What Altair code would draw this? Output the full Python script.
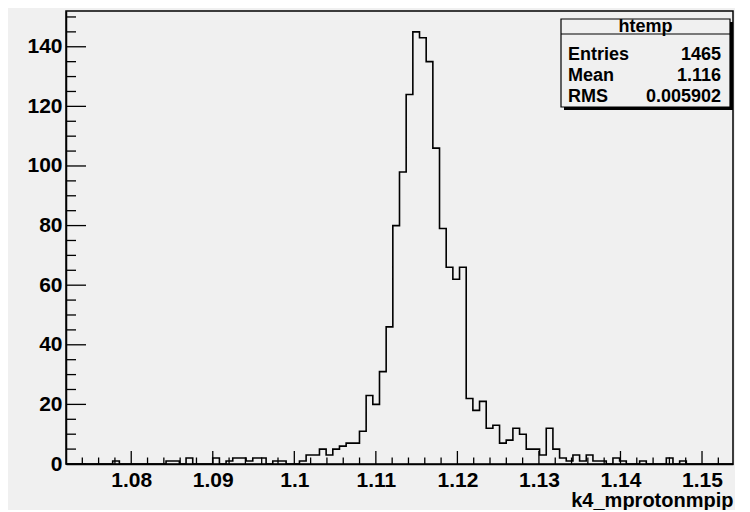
import altair as alt
import pandas as pd

# ---------------- data ----------------
hist_counts = [
    0, 0, 0, 0, 0, 0, 0, 1, 0, 0,
    0, 0, 0, 0, 0, 1, 1, 0, 2, 0,
    0, 0, 2, 0, 1, 2, 2, 1, 2, 2,
    0, 1, 1, 0, 0, 1, 3, 3, 5, 3,
    5, 6, 7, 7, 11, 23, 20, 31, 46, 80,
    98, 124, 145, 143, 135, 106, 79, 66, 62, 66,
    22, 18, 21, 12, 13, 7, 8, 12, 10, 5,
    5, 3, 12, 5, 2, 1, 3, 1, 3, 1,
    1, 0, 2, 1, 0, 0, 1, 0, 0, 0,
    2, 0, 1, 0, 0, 0, 0, 0, 0, 0,
]
bin_low_edge = 1.0720
bin_width = 0.000818
y_top = 152

x_major = [1.08, 1.09, 1.10, 1.11, 1.12, 1.13, 1.14, 1.15]
x_minor = [1.074, 1.076, 1.078, 1.082, 1.084, 1.086, 1.088, 1.092, 1.094, 1.096, 1.098,
           1.102, 1.104, 1.106, 1.108, 1.112, 1.114, 1.116, 1.118, 1.122, 1.124, 1.126,
           1.128, 1.132, 1.134, 1.136, 1.138, 1.142, 1.144, 1.146, 1.148, 1.152]
y_major = [0, 20, 40, 60, 80, 100, 120, 140]
y_minor = [5, 10, 15, 25, 30, 35, 45, 50, 55, 65, 70, 75, 85, 90, 95, 105, 110, 115,
           125, 130, 135, 145, 150]

stat_title = "htemp"
stat_names = ["Entries", "Mean", "RMS"]
stat_values = ["1465", "1.116", "0.005902"]
x_title = "k4_mprotonmpip"

# ---------------- layout ----------------
W, H = 667, 453
FONT = "Liberation Sans"
BG = "#f0f0f0"

edges = [bin_low_edge + i * bin_width for i in range(len(hist_counts) + 1)]
hist_df = pd.DataFrame({"x": edges, "n": hist_counts + [hist_counts[-1]]})

xs = alt.Scale(domain=[edges[0], edges[-1]], nice=False, zero=False)
ys = alt.Scale(domain=[0, y_top], nice=False, zero=False)

hist = alt.Chart(hist_df).mark_line(
    interpolate="step-after", color="#000", strokeWidth=1.6
).encode(
    x=alt.X("x:Q", scale=xs, axis=alt.Axis(
        values=x_major, format=".3~f", ticks=False, tickSize=0, labelPadding=5,
        labelFontSize=21, labelFont=FONT, labelFontWeight="bold", labelColor="#000",
        labelFlush=False, labelOverlap=False, grid=False,
        domainColor="#000", domainWidth=1.5,
        title=x_title, titleAnchor="end", titleAlign="right", titleX=W, titleY=42,
        titleBaseline="alphabetic", titleFontSize=20, titleFont=FONT,
        titleFontWeight="bold", titleColor="#000")),
    y=alt.Y("n:Q", scale=ys, axis=alt.Axis(
        values=y_major, format="d", ticks=False, tickSize=0, labelPadding=4,
        labelFontSize=21, labelFont=FONT, labelFontWeight="bold", labelColor="#000",
        labelFlush=False, labelOverlap=False, grid=False,
        domainColor="#000", domainWidth=1.5, title=None)),
)

def xticks(vals, length):
    return alt.Chart(pd.DataFrame({"x": vals})).mark_rule(color="#000", strokeWidth=1.3).encode(
        x=alt.X("x:Q", scale=xs),
        y=alt.value(H), y2=alt.value(H - length))

def yticks(vals, length):
    return alt.Chart(pd.DataFrame({"n": vals})).mark_rule(color="#000", strokeWidth=1.3).encode(
        y=alt.Y("n:Q", scale=ys),
        x=alt.value(0), x2=alt.value(length))

one = pd.DataFrame({"a": [0]})
bx0, bx1, by0, by1 = 495, 664, 8, 96
shadow = alt.Chart(one).mark_rect(color="#000").encode(
    x=alt.value(bx0 + 3), x2=alt.value(bx1 + 3), y=alt.value(by0 + 3), y2=alt.value(by1 + 3))
box = alt.Chart(one).mark_rect(fill=BG, stroke="#000", strokeWidth=1.2).encode(
    x=alt.value(bx0), x2=alt.value(bx1), y=alt.value(by0), y2=alt.value(by1))
sep = alt.Chart(one).mark_rule(color="#000", strokeWidth=1.2).encode(
    x=alt.value(bx0), x2=alt.value(bx1), y=alt.value(by0 + 15))

def label(txt, x, y, align):
    return alt.Chart(one).mark_text(
        text=txt, align=align, baseline="alphabetic", font=FONT, fontWeight="bold",
        fontSize=18, color="#000").encode(x=alt.value(x), y=alt.value(y))

texts = [label(stat_title, (bx0 + bx1) / 2, by0 + 13, "center")]
for i, (nm, val) in enumerate(zip(stat_names, stat_values)):
    yb = by0 + 41 + i * 21
    texts.append(label(nm, bx0 + 7, yb, "left"))
    texts.append(label(val, bx1 - 9, yb, "right"))

chart = alt.layer(
    hist,
    xticks(x_minor, 6.5), xticks(x_major, 13),
    yticks(y_minor, 10), yticks(y_major, 20),
    shadow, box, sep, *texts
).properties(
    width=W, height=H, background=BG, autosize="none",
    padding={"left": 58, "top": 3, "right": 2, "bottom": 46},
).configure_view(stroke="#000", strokeWidth=1.5, fill=BG)

chart.save("out.html", embed_options={"renderer": "svg", "actions": False})
